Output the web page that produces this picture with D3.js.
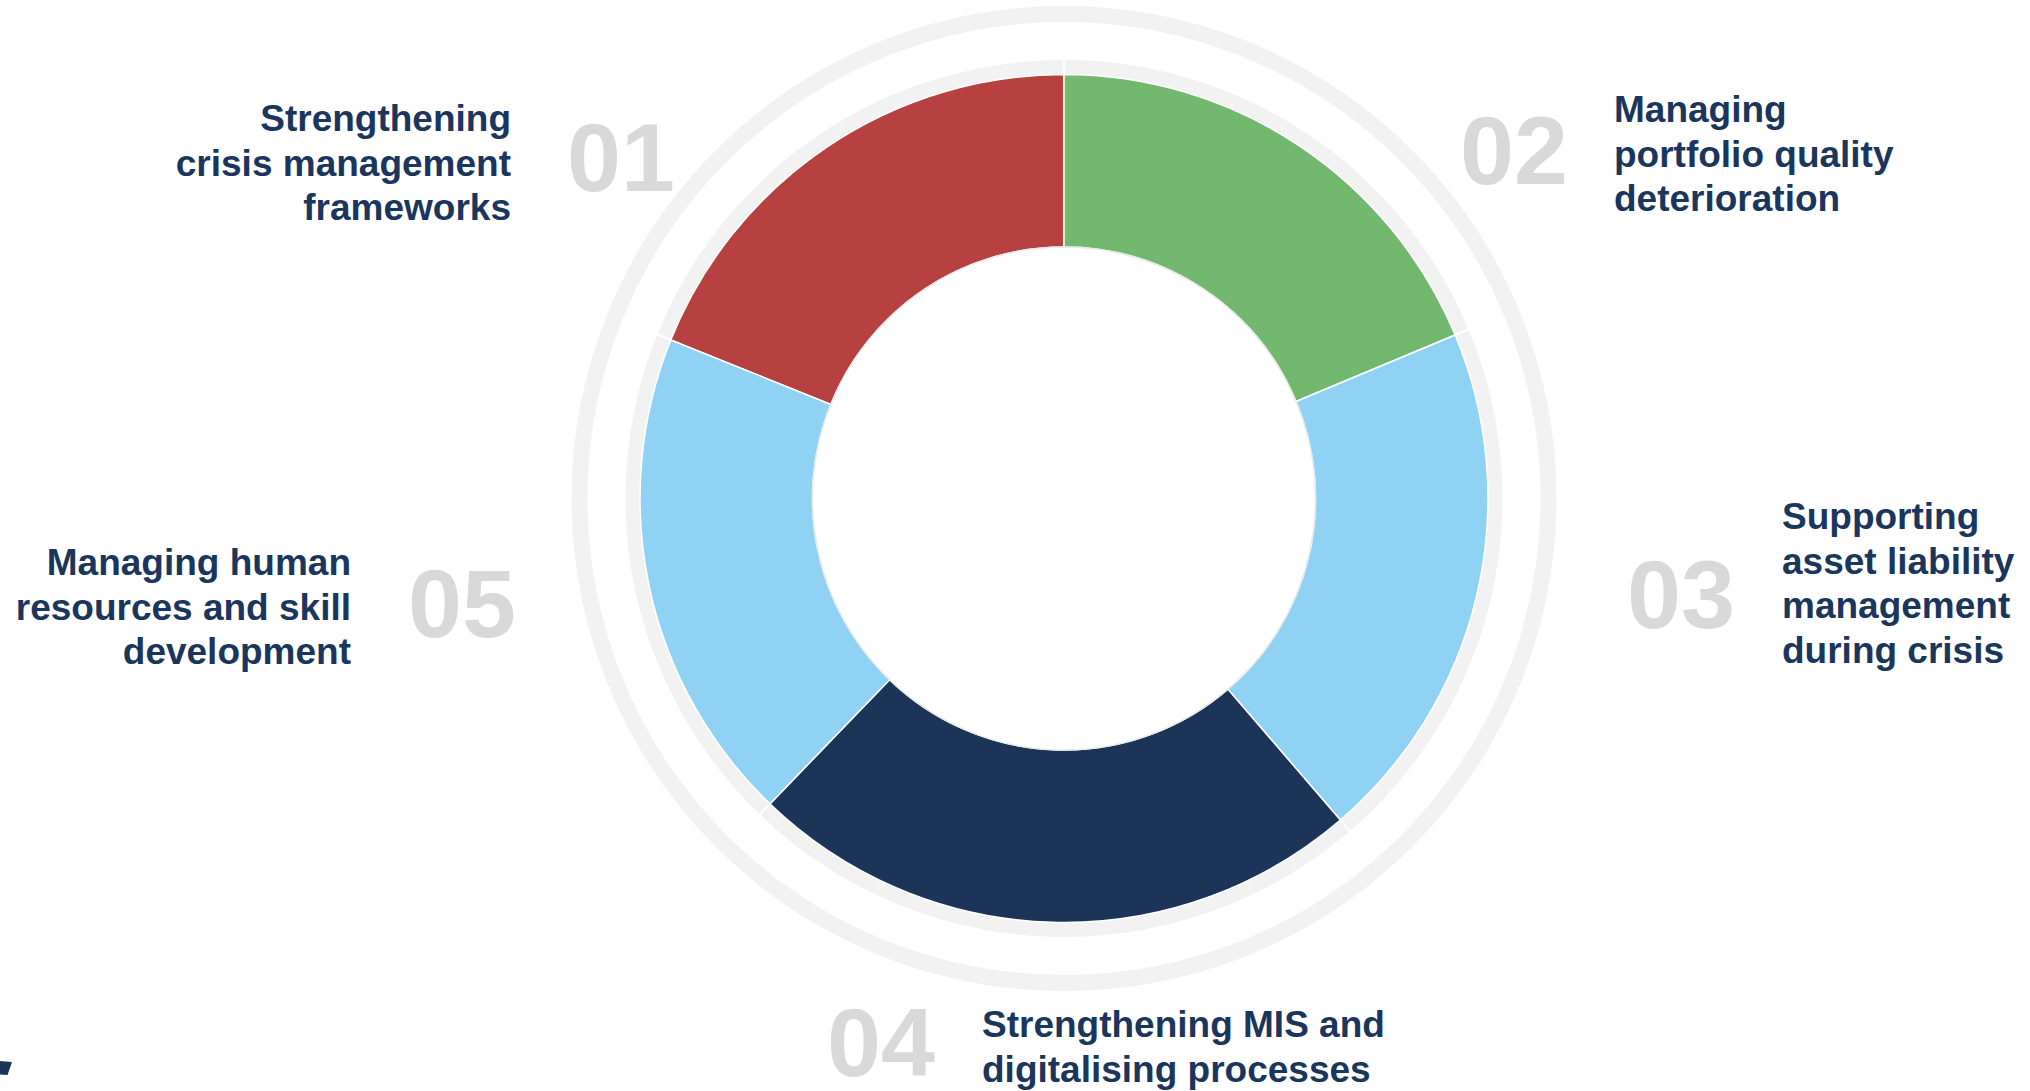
<!DOCTYPE html>
<html>
<head>
<meta charset="utf-8">
<script src="https://cdn.jsdelivr.net/npm/d3@7"></script>
<style>
  html, body { margin: 0; padding: 0; background: #fff; }
  svg { display: block; }
  text { font-family: "Liberation Sans", Arial, sans-serif; font-weight: bold; }
</style>
</head>
<body>
<div id="chart"></div>
<script>
// five focus areas, share of the ring
const codes = ['01', '02', '03', '04', '05'];
const labels = [
  ['Strengthening', 'crisis management', 'frameworks'],
  ['Managing', 'portfolio quality', 'deterioration'],
  ['Supporting', 'asset liability', 'management', 'during crisis'],
  ['Strengthening MIS and', 'digitalising processes'],
  ['Managing human', 'resources and skill', 'development'],
];
const shares = [18.9, 18.7, 20.0, 23.5, 18.9];
const colors = ['#b74040', '#73b86f', '#8fd2f3', '#1b3457', '#8fd2f3'];

// where the number / text blocks sit
const layout = [
  { num: [567, 191], text: [511, 131], textAnchor: 'end' },
  { num: [1460, 184], text: [1614, 122], textAnchor: 'start' },
  { num: [1627, 628], text: [1782, 529], textAnchor: 'start' },
  { num: [827, 1076], text: [982, 1037], textAnchor: 'start' },
  { num: [408, 637], text: [351, 575], textAnchor: 'end' },
];

const width = 2030;
const height = 1091;
const cx = 1064;
const cy = 498.5;

const svg = d3.select('#chart').append('svg')
  .attr('width', width)
  .attr('height', height)
  .attr('viewBox', [0, 0, width, height]);

const total = d3.sum(shares);
const start = -shares[0] / total * 2 * Math.PI;

const pie = d3.pie()
  .sort(null)
  .value((d) => d)
  .startAngle(start)
  .endAngle(start + 2 * Math.PI);

const arcs = pie(shares);

const g = svg.append('g').attr('transform', `translate(${cx},${cy})`);

// thin outer ring
g.append('circle')
  .attr('r', 484.5)
  .attr('fill', 'none')
  .attr('stroke', '#f2f2f2')
  .attr('stroke-width', 16);

// grey rim behind each slice
g.append('g').selectAll('path')
  .data(arcs)
  .join('path')
  .attr('d', d3.arc().innerRadius(400).outerRadius(439.5))
  .attr('fill', '#f2f2f2')
  .attr('stroke', '#fff')
  .attr('stroke-width', 2);

g.append('g').selectAll('path')
  .data(arcs)
  .join('path')
  .attr('d', d3.arc().innerRadius(251.5).outerRadius(424))
  .attr('fill', (d, i) => colors[i])
  .attr('stroke', '#fff')
  .attr('stroke-width', 1.5);

g.append('circle')
  .attr('r', 251.5)
  .attr('fill', '#fff')
  .attr('stroke', '#e9e9e9')
  .attr('stroke-width', 1.5);

// numbers
svg.append('g').selectAll('text')
  .data(codes)
  .join('text')
  .attr('x', (d, i) => layout[i].num[0])
  .attr('y', (d, i) => layout[i].num[1])
  .attr('font-size', 97)
  .attr('fill', '#d9d9d9')
  .text((d) => d);

// descriptions
const lineHeight = 44.5;
svg.append('g').selectAll('text')
  .data(labels)
  .join('text')
  .attr('x', (d, i) => layout[i].text[0])
  .attr('y', (d, i) => layout[i].text[1])
  .attr('text-anchor', (d, i) => layout[i].textAnchor)
  .attr('font-size', 37)
  .attr('fill', '#1b365d')
  .each(function (lines, i) {
    d3.select(this).selectAll('tspan')
      .data(lines)
      .join('tspan')
      .attr('x', layout[i].text[0])
      .attr('dy', (d, j) => (j === 0 ? 0 : lineHeight))
      .text((d) => d);
  });

// cut-off mark in the lower left corner
svg.append('path')
  .attr('d', 'M0,1061 L12,1062 L7.5,1075 L0,1074.5 Z')
  .attr('fill', '#1b3457');
</script>
</body>
</html>
